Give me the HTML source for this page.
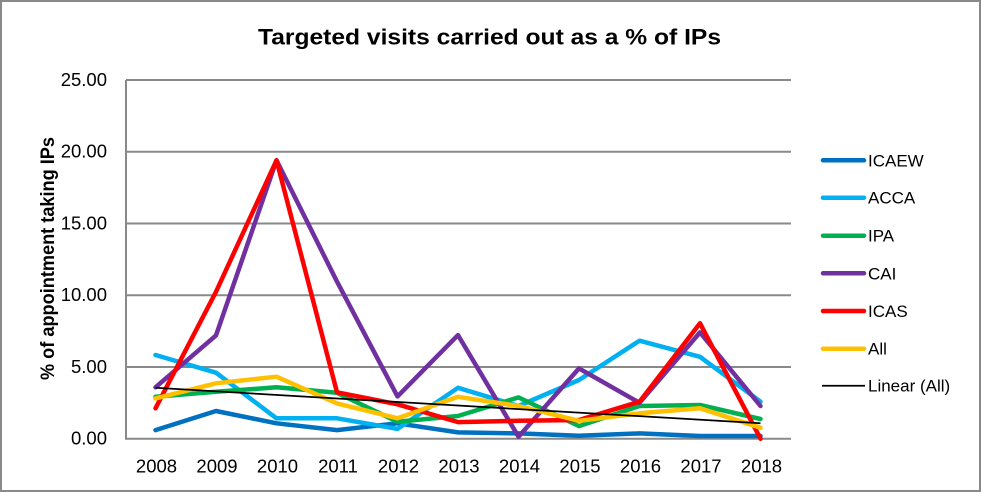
<!DOCTYPE html>
<html>
<head>
<meta charset="utf-8">
<style>
html,body{margin:0;padding:0;background:#fff;}
svg{display:block;}
text{font-family:"Liberation Sans",sans-serif;fill:#000;}
</style>
</head>
<body>
<svg width="981" height="492" viewBox="0 0 981 492" xmlns="http://www.w3.org/2000/svg">
<rect x="0" y="0" width="981" height="492" fill="#fff"/>
<rect x="1" y="1" width="979" height="490" fill="none" stroke="#898989" stroke-width="2"/>

<text x="258" y="44.3" font-size="22.5" font-weight="bold" textLength="463" lengthAdjust="spacingAndGlyphs">Targeted visits carried out as a % of IPs</text>

<!-- gridlines -->
<g stroke="#898989" stroke-width="2" fill="none">
<line x1="126" y1="80" x2="791" y2="80"/>
<line x1="126" y1="151.7" x2="791" y2="151.7"/>
<line x1="126" y1="223.5" x2="791" y2="223.5"/>
<line x1="126" y1="295.2" x2="791" y2="295.2"/>
<line x1="126" y1="367" x2="791" y2="367"/>
<line x1="126" y1="438.7" x2="791" y2="438.7"/>
<line x1="126" y1="80" x2="126" y2="439.7"/>
</g>

<!-- y tick labels -->
<g font-size="18.5" text-anchor="end">
<text x="107" y="86">25.00</text>
<text x="107" y="157.7">20.00</text>
<text x="107" y="229.5">15.00</text>
<text x="107" y="301.2">10.00</text>
<text x="107" y="373">5.00</text>
<text x="107" y="444.7">0.00</text>
</g>

<!-- y axis title -->
<text transform="translate(54,258.5) rotate(-90)" text-anchor="middle" font-size="19" font-weight="bold" textLength="243" lengthAdjust="spacingAndGlyphs">% of appointment taking IPs</text>

<!-- x labels -->
<g font-size="18.5" text-anchor="middle">
<text x="156.5" y="472.7">2008</text>
<text x="217" y="472.7">2009</text>
<text x="277.5" y="472.7">2010</text>
<text x="338" y="472.7">2011</text>
<text x="398.5" y="472.7">2012</text>
<text x="459" y="472.7">2013</text>
<text x="519.5" y="472.7">2014</text>
<text x="580" y="472.7">2015</text>
<text x="640.5" y="472.7">2016</text>
<text x="701" y="472.7">2017</text>
<text x="761.5" y="472.7">2018</text>
</g>

<!-- series -->
<g fill="none" stroke-width="4.5" stroke-linejoin="round" stroke-linecap="round">
<polyline stroke="#0070C0" points="155.5,430.1 216,411 276.5,423.3 337,430.1 397.5,423.3 458,432.4 518.5,433.4 579,435.7 639.5,433.4 700,436 760.5,436"/>
<polyline stroke="#00B0F0" points="155.5,355 216,372.7 276.5,418.3 337,418.3 397.5,428.9 458,387.8 518.5,406 579,380 639.5,340.7 700,356.8 760.5,401.7"/>
<polyline stroke="#00B050" points="155.5,396.8 216,391.8 276.5,387.3 337,392.8 397.5,421.8 458,416 518.5,397.4 579,426.1 639.5,406 700,405 760.5,419"/>
<polyline stroke="#7030A0" points="155.5,387.3 216,335.4 276.5,160.3 337,281.6 397.5,396.4 458,335.1 518.5,436.7 579,368.4 639.5,402.8 700,332.4 760.5,406"/>
<polyline stroke="#FF0000" points="155.5,408.3 216,291.8 276.5,160.3 337,392.3 397.5,404.3 458,422.1 518.5,420.8 579,420 639.5,401.7 700,323.3 760.5,438.7"/>
<polyline stroke="#FFC000" points="155.5,398.4 216,383.3 276.5,376.7 337,403.4 397.5,418.3 458,396.8 518.5,406 579,420.8 639.5,413.3 700,408.3 760.5,427.7"/>
</g>
<line x1="155.5" y1="387.8" x2="760.5" y2="423.3" stroke="#000" stroke-width="1.75"/>

<!-- legend -->
<g stroke-width="4.5" stroke-linecap="round">
<line x1="823" y1="160.3" x2="864" y2="160.3" stroke="#0070C0"/>
<line x1="823" y1="197.7" x2="864" y2="197.7" stroke="#00B0F0"/>
<line x1="823" y1="235.7" x2="864" y2="235.7" stroke="#00B050"/>
<line x1="823" y1="273.3" x2="864" y2="273.3" stroke="#7030A0"/>
<line x1="823" y1="311" x2="864" y2="311" stroke="#FF0000"/>
<line x1="823" y1="348.7" x2="864" y2="348.7" stroke="#FFC000"/>
</g>
<line x1="822" y1="385.7" x2="865" y2="385.7" stroke="#000" stroke-width="1.75"/>
<g font-size="17">
<text x="868" y="166.3">ICAEW</text>
<text x="868" y="203.7">ACCA</text>
<text x="868" y="241.7">IPA</text>
<text x="868" y="279.3">CAI</text>
<text x="868" y="317">ICAS</text>
<text x="868" y="354.7">All</text>
<text x="868" y="391.7">Linear (All)</text>
</g>
</svg>
</body>
</html>
